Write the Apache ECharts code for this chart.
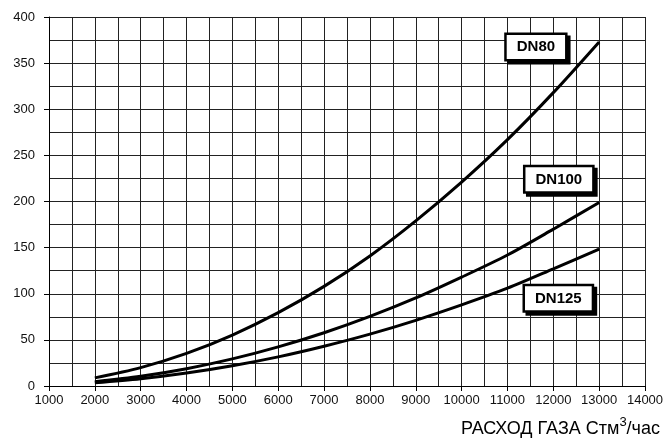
<!DOCTYPE html>
<html>
<head>
<meta charset="utf-8">
<script src="https://cdn.jsdelivr.net/npm/echarts@6/dist/echarts.min.js"></script>
<style>html,body{margin:0;padding:0;background:#fff}#c{width:669px;height:443px}</style>
</head>
<body>
<div id="c"></div>
<script>
const flows = [2000, 3000, 4000, 5000, 6000, 7000, 8000, 9000, 10000, 11000, 12000, 13000];
const dn80 = [8.8, 19.9, 35.3, 55.2, 79.5, 108, 141, 179, 221, 267, 318, 373];
const dn100 = [4.7, 10.6, 18.8, 29.4, 42.4, 57.7, 75.4, 95.4, 118, 142, 170, 199];
const dn125 = [3.5, 7.9, 14.1, 22.0, 31.6, 43.1, 56.2, 71.2, 87.9, 106, 127, 148.5];
const seriesNames = ['DN80', 'DN100', 'DN125'];
const labelAnchors = [[11620, 367.5], [12120, 224], [12110, 95]];
const xTitle = 'РАСХОД ГАЗА Стм';

const chart = echarts.init(document.getElementById('c'), null, {renderer: 'canvas'});
const font = '"Liberation Sans", Arial, sans-serif';
const gridLine = {show: true, lineStyle: {color: '#222', width: 1}};
function mk(name, vals, anchor) {
  return {
    name: name, type: 'line', smooth: 0.3, symbol: 'none',
    data: flows.map((f, i) => [f, vals[i]]),
    lineStyle: {color: '#000', width: 3},
    markPoint: {
      symbol: 'rect', symbolSize: 0,
      data: [{coord: anchor, value: name}],
      label: {
        show: true, position: 'inside', formatter: name,
        fontFamily: font, fontWeight: 'bold', fontSize: 15, color: '#000',
        backgroundColor: '#fff', borderColor: '#000', borderWidth: 2.5,
        padding: [5, 10, 4, 10],
        shadowColor: '#000', shadowBlur: 0, shadowOffsetX: 3, shadowOffsetY: 3
      }
    }
  };
}
chart.setOption({
  animation: false,
  backgroundColor: '#fff',
  title: {
    text: '{a|' + xTitle + '}{s|3}{a|/час}',
    right: 4, bottom: 0,
    textStyle: {
      fontWeight: 'normal',
      rich: {
        a: {fontFamily: font, fontSize: 18, fontWeight: 'normal', color: '#000', verticalAlign: 'bottom', lineHeight: 22},
        s: {fontFamily: font, fontSize: 13, fontWeight: 'normal', color: '#000', verticalAlign: 'top', lineHeight: 22, padding: [0, 0, 9, 0]}
      }
    }
  },
  grid: {left: 49, right: 24, top: 17, bottom: 57, containLabel: false},
  xAxis: {
    type: 'value', min: 1000, max: 14000, interval: 1000,
    axisLine: {show: true, lineStyle: {color: '#000', width: 1}},
    axisTick: {show: true, length: 5, lineStyle: {color: '#000'}},
    axisLabel: {fontFamily: font, fontSize: 13, color: '#111', margin: 8, formatter: v => String(v)},
    splitLine: gridLine,
    minorTick: {show: false, splitNumber: 2},
    minorSplitLine: {show: true, lineStyle: {color: '#222', width: 1}}
  },
  yAxis: {
    type: 'value', min: 0, max: 400, interval: 50,
    axisLine: {show: true, lineStyle: {color: '#000', width: 1}},
    axisTick: {show: true, length: 5, lineStyle: {color: '#000'}},
    axisLabel: {fontFamily: font, fontSize: 13, color: '#111', margin: 14, formatter: v => String(v)},
    splitLine: gridLine,
    minorTick: {show: false, splitNumber: 2},
    minorSplitLine: {show: true, lineStyle: {color: '#222', width: 1}}
  },
  series: [
    mk(seriesNames[0], dn80, labelAnchors[0]),
    mk(seriesNames[1], dn100, labelAnchors[1]),
    mk(seriesNames[2], dn125, labelAnchors[2])
  ]
});
</script>
</body>
</html>
